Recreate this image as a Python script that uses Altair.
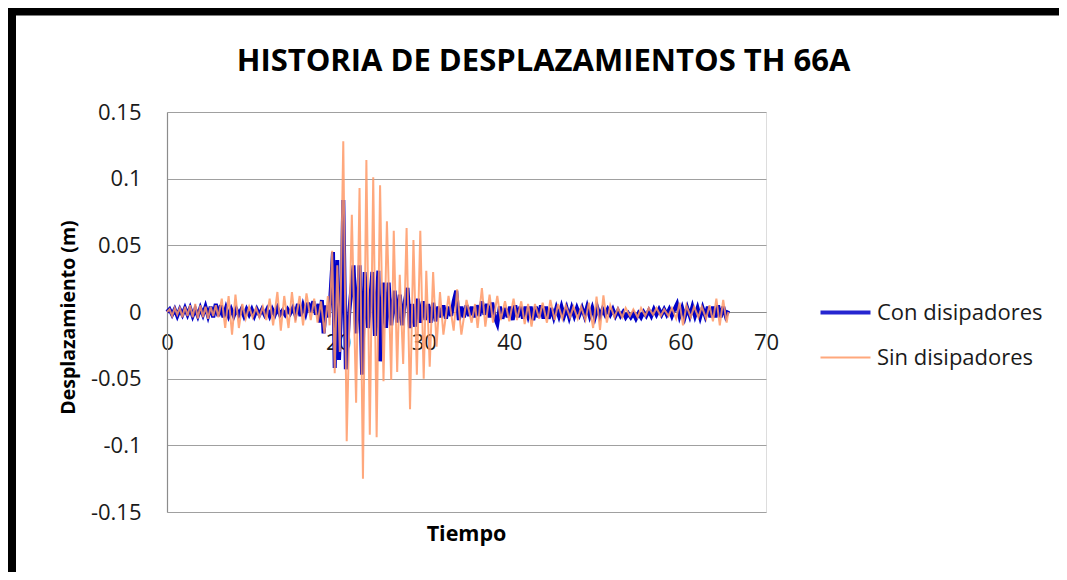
import altair as alt
import pandas as pd

TITLE = "HISTORIA DE DESPLAZAMIENTOS TH 66A"
X_TITLE = "Tiempo"
Y_TITLE = "Desplazamiento (m)"
SERIES = ["Con disipadores", "Sin disipadores"]
COLORS = ["#0000C8", "#FF9966"]
WIDTHS = [4, 2]
X_TICKS = [0, 10, 20, 30, 40, 50, 60, 70]
Y_TICKS = [-0.15, -0.1, -0.05, 0, 0.05, 0.1, 0.15]

# Con disipadores (time s, displacement m)
CON = [
    (0.0, 0.0), (0.3, 0.002), (0.6, -0.002), (0.9, 0.002), (1.2, -0.003), (1.5, 0.002),
    (1.8, -0.002), (2.1, 0.003), (2.4, -0.002), (2.7, 0.003), (3.0, -0.003), (3.3, 0.002),
    (3.6, -0.003), (3.9, 0.003), (4.2, -0.002), (4.5, 0.004), (4.8, -0.003), (5.1, 0.004),
    (5.4, -0.004), (5.7, 0.006), (6.0, -0.003), (6.3, 0.005), (6.6, -0.004), (6.9, 0.003),
    (7.2, -0.003), (7.5, 0.002), (7.8, -0.003), (8.1, 0.002), (8.4, -0.002), (8.7, 0.002),
    (9.0, -0.003), (9.3, 0.002), (9.6, -0.002), (9.9, 0.002), (10.2, -0.003), (10.5, 0.002),
    (10.8, -0.002), (11.1, 0.002), (11.4, -0.002), (11.7, 0.002), (12.0, -0.003), (12.3, 0.002),
    (12.6, -0.002), (12.9, 0.003), (13.2, -0.002), (13.5, 0.001), (13.8, -0.002), (14.1, 0.002),
    (14.4, -0.001), (14.7, 0.003), (15.0, -0.002), (15.3, 0.006), (15.6, -0.003), (15.9, 0.005),
    (16.2, -0.001), (16.5, 0.007), (16.8, 0.000), (17.1, 0.008), (17.4, -0.002), (17.7, 0.006),
    (17.9, -0.008), (18.1, 0.009), (18.3, -0.016), (18.6, 0.005), (18.9, -0.004), (19.1, 0.012),
    (19.4, 0.045), (19.6, -0.042), (19.9, 0.039), (20.1, -0.036), (20.4, 0.010), (20.6, 0.084),
    (20.9, -0.043), (21.3, 0.000), (21.8, 0.035), (22.1, -0.016), (22.5, 0.035), (22.8, -0.047),
    (23.1, 0.030), (23.5, -0.012), (24.0, 0.030), (24.3, -0.018), (24.7, 0.031), (24.9, -0.037),
    (25.3, 0.022), (25.6, -0.012), (25.9, 0.022), (26.2, -0.010), (26.6, 0.016), (26.9, -0.008),
    (27.2, 0.013), (27.5, -0.010), (27.8, 0.008), (28.1, 0.018), (28.4, -0.012), (28.7, 0.006),
    (29.0, -0.011), (29.3, 0.010), (29.6, -0.008), (29.9, 0.008), (30.2, -0.006), (30.5, 0.006),
    (30.8, -0.008), (31.1, 0.007), (31.4, -0.007), (31.7, 0.004), (32.0, -0.004), (32.3, 0.005),
    (32.6, -0.005), (32.9, 0.004), (33.2, -0.003), (33.5, 0.008), (33.8, 0.016), (34.1, -0.006),
    (34.4, 0.004), (34.7, -0.004), (35.0, 0.005), (35.3, -0.003), (35.6, 0.004), (35.9, -0.004),
    (36.2, 0.005), (36.5, -0.003), (36.8, 0.008), (37.1, -0.002), (37.4, 0.006), (37.7, -0.004),
    (38.0, 0.007), (38.3, -0.004), (38.6, -0.009), (38.9, 0.004), (39.2, -0.005), (39.5, 0.003),
    (39.8, -0.004), (40.1, 0.004), (40.4, -0.006), (40.7, 0.005), (41.0, -0.004), (41.3, 0.004),
    (41.6, -0.005), (41.9, 0.004), (42.2, -0.003), (42.5, 0.004), (42.8, -0.006), (43.1, 0.004),
    (43.4, -0.004), (43.7, 0.005), (44.0, -0.005), (44.3, 0.004), (44.6, -0.005), (44.9, 0.003),
    (45.2, -0.004), (45.5, 0.003), (45.8, -0.003), (46.1, 0.004), (46.4, -0.003), (46.7, 0.003),
    (47.0, -0.004), (47.3, 0.003), (47.6, -0.003), (47.9, 0.003), (48.2, -0.002), (48.5, 0.003),
    (48.8, -0.003), (49.1, 0.004), (49.4, -0.003), (49.7, 0.003), (50.0, -0.004), (50.3, 0.003),
    (50.6, -0.003), (50.9, 0.002), (51.2, -0.002), (51.5, 0.002), (51.8, -0.002), (52.1, 0.002),
    (52.4, -0.003), (52.7, 0.001), (53.0, -0.003), (53.3, 0.000), (53.6, -0.004), (53.9, -0.001),
    (54.2, -0.004), (54.5, -0.001), (54.8, -0.005), (55.1, -0.001), (55.4, -0.004), (55.7, 0.000),
    (56.0, -0.003), (56.3, 0.001), (56.6, -0.003), (56.9, 0.002), (57.2, -0.002), (57.5, 0.002),
    (57.8, -0.002), (58.1, 0.002), (58.4, -0.002), (58.7, 0.002), (59.0, -0.003), (59.3, 0.002),
    (59.6, 0.006), (59.9, -0.003), (60.2, 0.003), (60.5, -0.004), (60.8, 0.003), (61.1, -0.003),
    (61.4, 0.004), (61.7, -0.003), (62.0, 0.003), (62.3, -0.004), (62.6, 0.003), (62.9, -0.003),
    (63.2, 0.004), (63.5, -0.004), (63.8, 0.004), (64.1, -0.004), (64.4, 0.005), (64.7, -0.004),
    (65.0, 0.004), (65.3, -0.003), (65.6, 0.001),
]

# Sin disipadores (time s, displacement m)
SIN = [
    (0.0, 0.0), (0.3, 0.002), (0.6, -0.003), (0.9, 0.003), (1.2, -0.002), (1.5, 0.003),
    (1.8, -0.004), (2.1, 0.004), (2.4, -0.003), (2.7, 0.005), (3.0, -0.004), (3.3, 0.006),
    (3.6, -0.005), (3.9, 0.005), (4.2, -0.004), (4.5, 0.004), (4.8, -0.005), (5.1, 0.004),
    (5.4, -0.003), (5.7, 0.005), (6.0, -0.004), (6.4, 0.010), (6.8, -0.012), (7.2, 0.012),
    (7.6, -0.017), (8.0, 0.013), (8.4, -0.012), (8.8, 0.006), (9.2, -0.005), (9.6, 0.004),
    (10.0, -0.004), (10.4, 0.003), (10.8, -0.004), (11.2, 0.004), (11.6, -0.006), (12.0, 0.010),
    (12.4, -0.010), (12.9, 0.015), (13.3, -0.014), (13.7, 0.012), (14.2, -0.012), (14.6, 0.015),
    (15.0, -0.008), (15.5, 0.012), (15.9, -0.010), (16.3, 0.014), (16.8, -0.006), (17.2, 0.010),
    (17.6, -0.008), (18.0, 0.008), (18.4, -0.016), (18.8, 0.012), (19.0, -0.010), (19.3, 0.046),
    (19.6, -0.046), (19.9, 0.035), (20.2, -0.030), (20.6, 0.128), (21.0, -0.097), (21.6, 0.073),
    (22.1, -0.068), (22.5, 0.093), (22.9, -0.125), (23.3, 0.114), (23.7, -0.092), (24.1, 0.101),
    (24.5, -0.094), (24.9, 0.095), (25.3, -0.052), (25.7, 0.068), (26.2, -0.051), (26.5, 0.061),
    (26.9, -0.045), (27.2, 0.028), (27.6, -0.039), (28.0, 0.063), (28.4, -0.073), (28.8, 0.054),
    (29.2, -0.047), (29.6, 0.061), (30.0, -0.050), (30.3, 0.031), (30.7, -0.041), (31.1, 0.030),
    (31.5, -0.026), (31.9, 0.015), (32.3, -0.017), (32.9, 0.012), (33.5, -0.014), (33.9, 0.017),
    (34.4, -0.017), (35.0, 0.009), (35.6, -0.008), (36.0, 0.006), (36.3, -0.012), (36.8, 0.018),
    (37.2, -0.011), (37.7, 0.013), (38.1, -0.008), (38.6, 0.012), (39.0, -0.006), (39.5, 0.008),
    (40.0, -0.007), (40.5, 0.010), (40.9, -0.006), (41.4, 0.008), (41.8, -0.009), (42.2, 0.006),
    (42.6, -0.011), (43.0, 0.006), (43.5, -0.005), (43.9, 0.007), (44.4, -0.008), (44.8, 0.009),
    (45.3, -0.006), (45.7, 0.006), (46.2, -0.005), (46.6, 0.005), (47.1, -0.004), (47.5, 0.004),
    (48.0, -0.005), (48.4, 0.004), (48.9, -0.006), (49.3, 0.007), (49.8, -0.012), (50.2, 0.0115),
    (50.6, -0.0135), (51.0, 0.0125), (51.4, -0.008), (51.8, 0.005), (52.3, -0.004), (52.7, 0.003),
    (53.2, -0.004), (53.6, 0.003), (54.1, -0.003), (54.5, 0.002), (55.0, -0.004), (55.4, 0.003),
    (55.9, -0.003), (56.3, 0.003), (56.8, -0.002), (57.2, 0.003), (57.7, -0.003), (58.1, 0.002),
    (58.6, -0.003), (59.0, 0.003), (59.5, -0.005), (59.9, 0.007), (60.3, -0.010), (60.7, 0.005),
    (61.2, -0.004), (61.6, 0.004), (62.1, -0.004), (62.5, 0.004), (63.0, -0.005), (63.4, 0.005),
    (63.8, -0.007), (64.2, 0.010), (64.6, -0.010), (65.0, 0.009), (65.4, -0.008), (65.6, 0.0),
]

rows = [{"t": t, "v": v, "serie": SERIES[0]} for t, v in CON] + \
       [{"t": t, "v": v, "serie": SERIES[1]} for t, v in SIN]
df = pd.DataFrame(rows)

FONT = "Open Sans"
TXT = "#1a1a1a"

legend = alt.Legend(
    title=None, orient="none", legendX=664, legendY=186,
    symbolType="M-2,0H2", symbolSize=625, labelFont=FONT, labelFontSize=22,
    labelColor=TXT, labelOffset=17, rowPadding=20, padding=0, labelLimit=400,
)

base = alt.Chart(df).encode(
    x=alt.X("t:Q", scale=alt.Scale(domain=[0, 70], nice=False, zero=False),
            axis=alt.Axis(values=X_TICKS, offset=-200, grid=False, ticks=False, tickSize=0,
                          domainColor="#8c8c8c", domainWidth=1.2,
                          labelFont=FONT, labelFontSize=22, labelColor=TXT, labelPadding=20,
                          labelFlush=False, labelOverlap=False,
                          title=X_TITLE, titleFont=FONT, titleFontSize=21.5, titleFontWeight="bold",
                          titleColor="#000", titleX=299, titleY=222, titleAlign="center",
                          titleBaseline="middle")),
    y=alt.Y("v:Q", scale=alt.Scale(domain=[-0.15, 0.15], nice=False, zero=False),
            axis=alt.Axis(values=Y_TICKS, grid=True, gridColor="#a0a0a0", gridWidth=1.2,
                          ticks=False, tickSize=0, domainColor="#8c8c8c", domainWidth=1.2,
                          labelFont=FONT, labelFontSize=22, labelColor=TXT, labelPadding=26,
                          labelFlush=False, labelOverlap=False,
                          labelExpr="(datum.value < 0 ? '-' : '') + format(abs(datum.value), '~g')",
                          title=Y_TITLE, titleFont=FONT, titleFontSize=19.5, titleFontWeight="bold",
                          titleColor="#000", titleX=-99, titleY=205, titleAngle=270,
                          titleAlign="center", titleBaseline="middle")),
    color=alt.Color("serie:N", scale=alt.Scale(domain=SERIES, range=COLORS), legend=legend),
    strokeWidth=alt.StrokeWidth("serie:N", scale=alt.Scale(domain=SERIES, range=WIDTHS), legend=legend),
)

con = base.transform_filter(alt.datum.serie == SERIES[0]).mark_line()
sin = base.transform_filter(alt.datum.serie == SERIES[1]).mark_line(opacity=0.85)

frame_df = pd.DataFrame({"k": [0]})
frame_left = alt.Chart(frame_df).mark_rule(color="black", strokeWidth=8).encode(
    x=alt.value(-155), y=alt.value(-106), y2=alt.value(470))
frame_top = alt.Chart(frame_df).mark_rule(color="black", strokeWidth=9).encode(
    x=alt.value(-159), x2=alt.value(900), y=alt.value(-101))

chart = alt.layer(frame_left, frame_top, con, sin).properties(
    width=599, height=400,
    autosize=alt.AutoSizeParams(type="none"),
    padding={"left": 159, "top": 104, "right": 293, "bottom": 60},
    title=alt.Title(TITLE, font=FONT, fontSize=31, fontWeight="bold", color="#000",
                    anchor="middle", frame="group", dx=77, offset=0, dy=99.5,
                    baseline="alphabetic"),
).configure_view(stroke=None).configure(background="white")

chart.save("out.html", embed_options={"renderer": "svg", "actions": False})
